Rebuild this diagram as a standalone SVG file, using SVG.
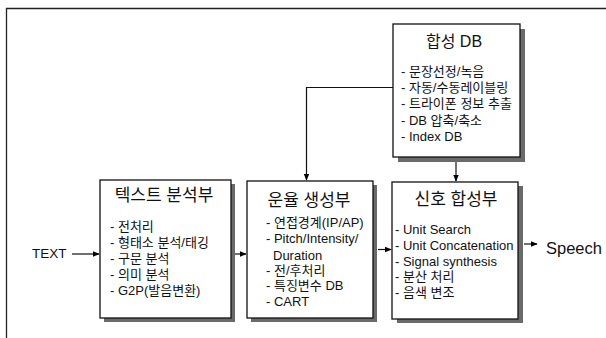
<svg xmlns="http://www.w3.org/2000/svg" width="606" height="338" viewBox="0 0 606 338">
<defs>
<marker id="ah" viewBox="0 0 10 10" refX="9" refY="5" markerWidth="7" markerHeight="7" markerUnits="userSpaceOnUse" orient="auto">
<path d="M0,1 L10,5 L0,9 Z" fill="#000"/>
</marker>
<style>
.frame{fill:none;stroke:#222;stroke-width:1.3}
.box{fill:#fff;stroke:#111;stroke-width:1.3}
.shadow{fill:#6a6a6a}
.title{font-family:"Liberation Sans","Noto Sans CJK KR",sans-serif;font-size:17px;fill:#111;text-anchor:middle}
.item{font-family:"Liberation Sans","Noto Sans CJK KR",sans-serif;font-size:13px;fill:#111}
.lbl{font-family:"Liberation Sans","Noto Sans CJK KR",sans-serif;fill:#111}
.conn{fill:none;stroke:#111;stroke-width:1.2}
</style>
</defs>
<rect width="606" height="338" fill="#fff"/>
<path class="frame" d="M6.5,338 V8.5 H606"/>

<g id="connectors">
<line class="conn" x1="72" y1="254" x2="99" y2="254" marker-end="url(#ah)"/>
<line class="conn" x1="235" y1="254" x2="246" y2="254" marker-end="url(#ah)"/>
<line class="conn" x1="378" y1="249.5" x2="391" y2="249.5" marker-end="url(#ah)"/>
<line class="conn" x1="524" y1="244" x2="537" y2="244" marker-end="url(#ah)"/>
<line class="conn" x1="456" y1="161" x2="456" y2="181" marker-end="url(#ah)"/>
<polyline class="conn" points="393,87.5 306.5,87.5 306.5,180" marker-end="url(#ah)"/>
</g>

<g id="text-label">
<text class="lbl" x="32" y="258" font-size="13.5">TEXT</text>
</g>
<g id="speech-label">
<text class="lbl" x="546" y="254" font-size="16.5">Speech</text>
</g>

<g id="synthesis-db">
<rect class="shadow" x="398" y="29" width="127" height="133"/>
<rect class="box" x="393" y="24" width="127" height="133"/>
<text class="title" x="454" y="47" style="font-size:16px">합성 DB</text>
<text class="item" x="401" y="76">- 문장선정/녹음</text>
<text class="item" x="401" y="92">- 자동/수동레이블링</text>
<text class="item" x="401" y="108">- 트라이폰 정보 추출</text>
<text class="item" x="401" y="124.5">- DB 압축/축소</text>
<text class="item" x="401" y="141">- Index DB</text>
</g>

<g id="text-analysis">
<rect class="shadow" x="104" y="184" width="131" height="138"/>
<rect class="box" x="100" y="180" width="131" height="138"/>
<text class="title" x="164" y="201">텍스트 분석부</text>
<text class="item" x="110" y="231">- 전처리</text>
<text class="item" x="110" y="247">- 형태소 분석/태깅</text>
<text class="item" x="110" y="263">- 구문 분석</text>
<text class="item" x="110" y="278.5">- 의미 분석</text>
<text class="item" x="110" y="294.5">- G2P(발음변환)</text>
</g>

<g id="prosody">
<rect class="shadow" x="251" y="185" width="126" height="137"/>
<rect class="box" x="247" y="181" width="126" height="137"/>
<text class="title" x="309" y="206">운율 생성부</text>
<text class="item" x="266" y="227">- 연접경계(IP/AP)</text>
<text class="item" x="266" y="243">- Pitch/Intensity/</text>
<text class="item" x="273" y="259.5">Duration</text>
<text class="item" x="266" y="274.5">- 전/후처리</text>
<text class="item" x="266" y="290">- 특징변수 DB</text>
<text class="item" x="266" y="306">- CART</text>
</g>

<g id="signal-synthesis">
<rect class="shadow" x="397" y="186" width="126" height="137"/>
<rect class="box" x="392" y="182" width="126" height="137"/>
<text class="title" x="456" y="205">신호 합성부</text>
<text class="item" x="395" y="234">- Unit Search</text>
<text class="item" x="395" y="250">- Unit Concatenation</text>
<text class="item" x="395" y="265.5">- Signal synthesis</text>
<text class="item" x="395" y="281">- 분산 처리</text>
<text class="item" x="395" y="297">- 음색 변조</text>
</g>
</svg>
